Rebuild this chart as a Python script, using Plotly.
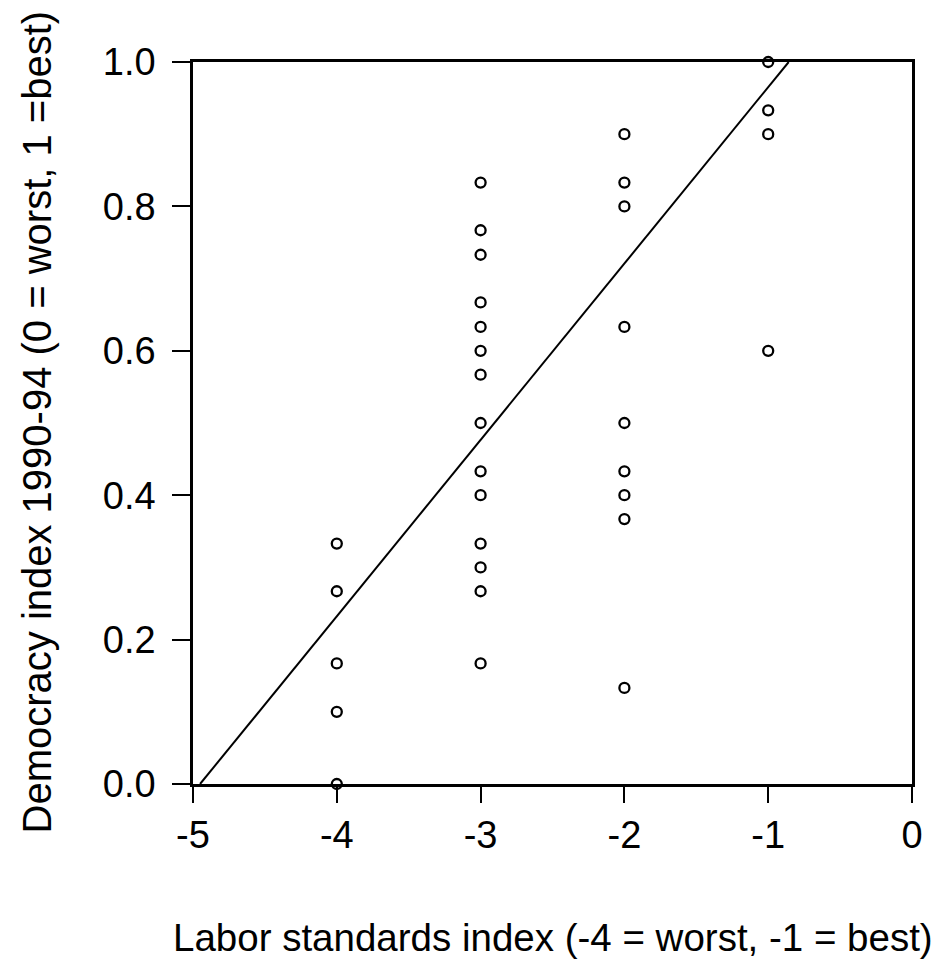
import plotly.graph_objects as go

# Labor standards index (x) and democracy index (y) for each country
labor_x = [-4, -4, -4, -4, -4,
           -3, -3, -3, -3, -3, -3, -3, -3, -3, -3, -3, -3, -3, -3,
           -2, -2, -2, -2, -2, -2, -2, -2, -2,
           -1, -1, -1, -1]
democracy_y = [0.333, 0.267, 0.167, 0.100, 0.000,
               0.833, 0.767, 0.733, 0.667, 0.633, 0.600, 0.567, 0.500, 0.433, 0.400, 0.333, 0.300, 0.267, 0.167,
               0.900, 0.833, 0.800, 0.633, 0.500, 0.433, 0.400, 0.367, 0.133,
               1.000, 0.933, 0.900, 0.600]

# fitted line  y = intercept + slope * x
fit_intercept = 1.2095
fit_slope = 0.2443

x_ticks = [-5, -4, -3, -2, -1, 0]
y_ticks = [0.0, 0.2, 0.4, 0.6, 0.8, 1.0]
y_tick_labels = ["0.0", "0.2", "0.4", "0.6", "0.8", "1.0"]

x_title = "Labor standards index (-4 = worst, -1 = best)"
y_title = "Democracy index 1990-94 (0 = worst, 1 =best)"

line_x = [(0 - fit_intercept) / fit_slope, (1 - fit_intercept) / fit_slope]
line_y = [fit_intercept + fit_slope * v for v in line_x]

W, H = 944, 963
L, R, T, B = 193, 32, 62, 179
PW, PH = W - L - R, H - T - B

fig = go.Figure()
fig.add_trace(go.Scatter(x=line_x, y=line_y, mode="lines",
                         line=dict(color="black", width=2), hoverinfo="skip",
                         showlegend=False))
fig.add_trace(go.Scatter(x=labor_x, y=democracy_y, mode="markers",
                         marker=dict(symbol="circle-open", size=10, color="black",
                                     line=dict(color="black", width=2.3)),
                         showlegend=False, cliponaxis=False))

font = dict(family="Liberation Sans, Arial, sans-serif", color="black")

fig.update_layout(
    width=W, height=H,
    margin=dict(l=L, r=R, t=T, b=B, pad=0),
    paper_bgcolor="white", plot_bgcolor="white",
    font=dict(**font, size=38),
    xaxis=dict(range=[-5, 0], tickvals=x_ticks, ticktext=[str(v) for v in x_ticks],
               showgrid=False, zeroline=False, showline=True, linecolor="black",
               linewidth=2.5, mirror=True, ticks="outside", ticklen=16,
               tickwidth=2, tickcolor="black", tickfont=dict(**font, size=38)),
    yaxis=dict(range=[0, 1], tickvals=y_ticks, ticktext=y_tick_labels,
               showgrid=False, zeroline=False, showline=True, linecolor="black",
               linewidth=2.5, mirror=True, ticks="outside", ticklen=18,
               tickwidth=2, tickcolor="black", ticklabelstandoff=9,
               tickfont=dict(**font, size=38)),
    annotations=[
        dict(text=x_title, xref="paper", yref="paper", x=0.5,
             y=-(937 - (H - B)) / PH,
             xanchor="center", yanchor="middle", showarrow=False,
             font=dict(**font, size=38.5)),
        dict(text=y_title, xref="paper", yref="paper",
             x=-(L - 36) / PW, y=-(836 - (H - B)) / PH,
             xanchor="center", yanchor="bottom", textangle=-90, showarrow=False,
             font=dict(**font, size=40)),
    ],
)

fig.write_html("out.html")
